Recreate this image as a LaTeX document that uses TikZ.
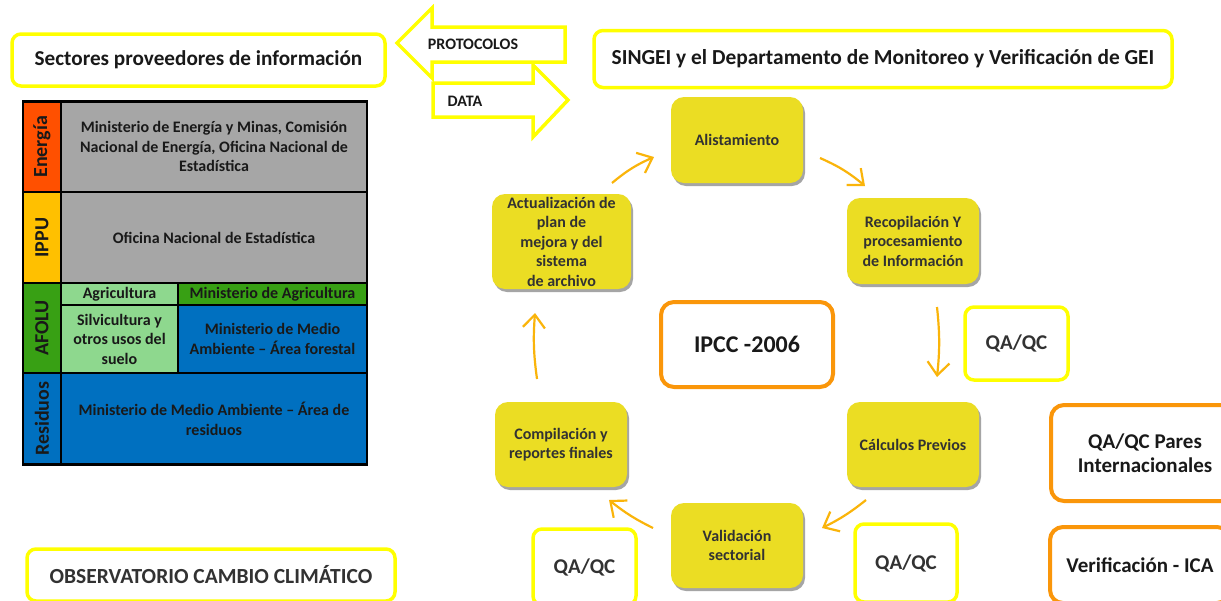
\documentclass[tikz,border=0pt]{standalone}
\usepackage{fontspec}
\setmainfont{Carlito}
\usetikzlibrary{shadows,arrows.meta}
\definecolor{ylw}{RGB}{255,255,0}
\definecolor{org}{RGB}{250,150,10}
\definecolor{cyc}{RGB}{235,221,35}
\definecolor{arr}{RGB}{250,180,10}
\definecolor{txt}{RGB}{25,25,25}
\definecolor{txtg}{RGB}{50,50,50}
\definecolor{cEn}{RGB}{255,80,0}
\definecolor{cIp}{RGB}{255,192,0}
\definecolor{cAf}{RGB}{56,160,20}
\definecolor{cLg}{RGB}{142,216,142}
\definecolor{cBl}{RGB}{0,112,192}
\definecolor{cGr}{RGB}{166,166,166}
\newcommand{\fsz}[2]{\fontsize{#1}{#2}\selectfont\bfseries}
\tikzset{
  ybox/.style={draw=ylw, line width=3.5pt, rounded corners=9pt, fill=white, align=center, inner sep=0pt, text=txt},
  obox/.style={draw=org, line width=4pt, rounded corners=13pt, fill=white, align=center, inner sep=0pt, text=txt},
  cycbox/.style={fill=cyc, rounded corners=13pt, align=center, inner sep=0pt, text=txtg,
    font=\fsz{16}{19.5}, drop shadow={shadow xshift=2pt, shadow yshift=-3pt, opacity=0.5, fill=black!70}},
  cell/.style={draw=black, line width=2.6pt, inner sep=0pt, align=center, text=txt, font=\fsz{16}{19.5}},
  lcell/.style={cell, rotate=90, font=\fsz{20}{24}},
  flow/.style={draw=arr, line width=2.2pt, -{Straight Barb[length=13pt,width=22pt]}},
  bigarrow/.style={draw=ylw, line width=3.5pt, fill=white, line join=miter},
  arrlabel/.style={inner sep=0pt, text=txt, font=\fsz{16}{18}}
}
\begin{document}
\begin{tikzpicture}[x=1pt,y=-1pt]
\clip (0,0) rectangle (1221,600);
\fill[white] (0,0) rectangle (1221,600);

% header boxes
\node[ybox, minimum width=373pt, minimum height=52pt, font=\fsz{21.2}{25}] (sect) at (198.5,60) {Sectores proveedores de información};
\node[ybox, minimum width=578pt, minimum height=57pt, font=\fsz{21.4}{25}] (singei) at (883,59) {SINGEI y el Departamento de Monitoreo y Verificación de GEI};

% big arrows
\draw[bigarrow] (565,27) -- (432,27) -- (432,8) -- (397,43) -- (432,78) -- (432,62) -- (565,62) -- cycle;
\draw[bigarrow] (433,83) -- (533,83) -- (533,65) -- (568,100) -- (533,137) -- (533,117) -- (433,117) -- cycle;
\node[arrlabel] (prot) at (473,44) {PROTOCOLOS};
\node[arrlabel] (data) at (465,101) {DATA};

% table
\node[lcell, fill=cEn, minimum width=90.5pt, minimum height=38pt] (enL) at (42,146.75) {Energía};
\node[cell, fill=cGr, minimum width=306pt, minimum height=90.5pt] (enC) at (214,146.75) {Ministerio de Energía y Minas, Comisión\\Nacional de Energía, Oficina Nacional de\\Estadística};
\node[lcell, fill=cIp, minimum width=91pt, minimum height=38pt] (ipL) at (42,237.5) {IPPU};
\node[cell, fill=cGr, minimum width=306pt, minimum height=91pt] (ipC) at (214,237.5) {Oficina Nacional de Estadística};
\node[lcell, fill=cAf, minimum width=90pt, minimum height=38pt] (afL) at (42,328) {AFOLU};
\node[cell, fill=cLg, minimum width=117pt, minimum height=22pt] (agA) at (119.5,294) {Agricultura};
\node[cell, fill=cAf, minimum width=189pt, minimum height=22pt] (agM) at (272.5,294) {Ministerio de Agricultura};
\node[cell, fill=cLg, minimum width=117pt, minimum height=68pt] (siA) at (119.5,339) {Silvicultura y\\otros usos del\\suelo};
\node[cell, fill=cBl, minimum width=189pt, minimum height=68pt] (siM) at (272.5,339) {Ministerio de Medio\\Ambiente – Área forestal};
\node[lcell, fill=cBl, minimum width=91.5pt, minimum height=38pt] (reL) at (42,418.75) {Residuos};
\node[cell, fill=cBl, minimum width=306pt, minimum height=91.5pt] (reC) at (214,418.75) {Ministerio de Medio Ambiente – Área de\\residuos};

% observatorio
\node[ybox, minimum width=368pt, minimum height=52pt, font=\fsz{21.5}{25}, text=txtg] (obs) at (211,575) {OBSERVATORIO CAMBIO CLIMÁTICO};

% cycle
\node[cycbox, minimum width=132pt, minimum height=86pt] (alis) at (737,140) {Alistamiento};
\node[cycbox, minimum width=132pt, minimum height=86pt] (recop) at (913,241) {Recopilación Y\\procesamiento\\de Información};
\node[cycbox, minimum width=132pt, minimum height=85pt] (calc) at (913,444.5) {Cálculos Previos};
\node[cycbox, minimum width=132pt, minimum height=85pt] (valid) at (737,545.5) {Validación\\sectorial};
\node[cycbox, minimum width=132pt, minimum height=85pt] (comp) at (561,444.5) {Compilación y\\reportes finales};
\node[cycbox, minimum width=139pt, minimum height=95pt] (act) at (561.5,241.5) {Actualización de\\plan de\\mejora y del\\sistema\\de archivo};

\coordinate (a1s) at (612,183); \coordinate (a1e) at (654,157);
\coordinate (a2s) at (820,158); \coordinate (a2e) at (865,186);
\coordinate (a3s) at (937,307); \coordinate (a3e) at (937,377);
\coordinate (a4s) at (866,500); \coordinate (a4e) at (822,528);
\coordinate (a5s) at (653,528); \coordinate (a5e) at (609,500);
\coordinate (a6s) at (537,379); \coordinate (a6e) at (535,313);
\draw[flow] (a1s) to[bend left=8] (a1e);
\draw[flow] (a2s) to[bend left=8] (a2e);
\draw[flow] (a3s) to[bend left=6] (a3e);
\draw[flow] (a4s) to[bend left=6] (a4e);
\draw[flow] (a5s) to[bend left=6] (a5e);
\draw[flow] (a6s) to[bend left=6] (a6e);

% side boxes
\node[obox, minimum width=172pt, minimum height=85pt, font=\fsz{24}{28}] (ipcc) at (747,344.5) {IPCC -2006};
\node[ybox, minimum width=103pt, minimum height=73pt, font=\fsz{21}{25}, text=txtg] (qa1) at (1016.5,343.5) {QA/QC};
\node[ybox, minimum width=103pt, minimum height=76pt, font=\fsz{21}{25}, text=txtg] (qa2) at (584.5,567) {QA/QC};
\node[ybox, minimum width=102pt, minimum height=78pt, font=\fsz{21}{25}, text=txtg] (qa3) at (906,563) {QA/QC};
\node[obox, minimum width=188pt, minimum height=96pt, font=\fsz{21}{24}] (pares) at (1145,453) {QA/QC Pares\\Internacionales};
\node[obox, minimum width=180pt, minimum height=76pt, font=\fsz{21}{25}] (verif) at (1140,565) {Verificación - ICA};
\end{tikzpicture}
\end{document}
